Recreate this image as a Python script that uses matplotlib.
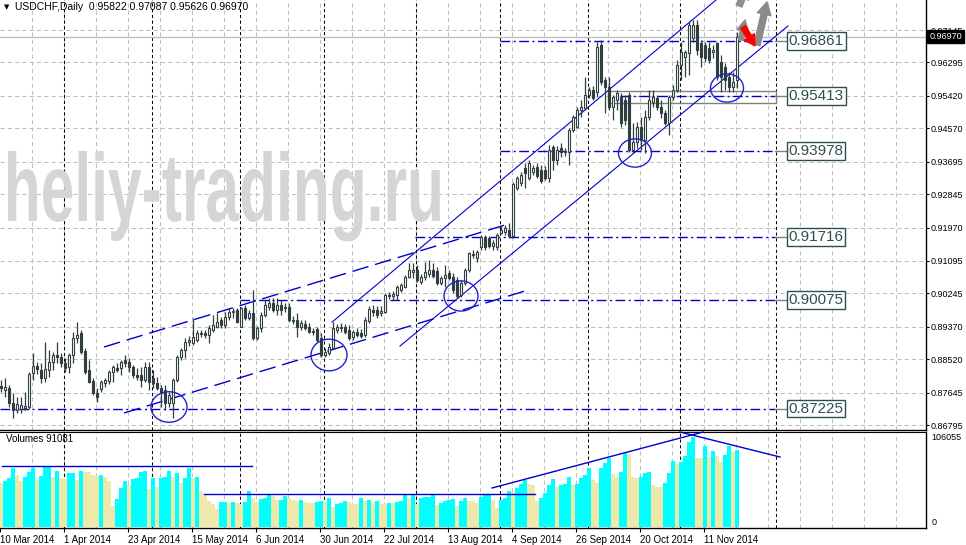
import numpy as np
import matplotlib
matplotlib.use('Agg')
import matplotlib.pyplot as plt
from matplotlib.patches import Rectangle, Ellipse, PathPatch
from matplotlib.textpath import TextPath
from matplotlib.font_manager import FontProperties
from matplotlib.transforms import Affine2D, blended_transform_factory

plt.rcParams['font.family'] = ['Liberation Sans', 'DejaVu Sans']

# ---------------- data ----------------
opens = [0.8782, 0.8771, 0.8776, 0.8737, 0.8719, 0.8721, 0.8724, 0.8727, 0.8816, 0.8834,
         0.8824, 0.8803, 0.8824, 0.8845, 0.8863, 0.8858, 0.8842, 0.8831, 0.8863, 0.8907,
         0.8921, 0.8873, 0.8824, 0.8795, 0.8763, 0.8774, 0.8790, 0.8795, 0.8818, 0.8829,
         0.8829, 0.8850, 0.8845, 0.8831, 0.8811, 0.8811, 0.8797, 0.8831, 0.8803, 0.8790,
         0.8776, 0.8771, 0.8737, 0.8737, 0.8797, 0.8858, 0.8876, 0.8897, 0.8894, 0.8902,
         0.8921, 0.8921, 0.8915, 0.8929, 0.8936, 0.8955, 0.8941, 0.8962, 0.8976, 0.8981,
         0.8936, 0.8986, 0.8960, 0.8973, 0.8907, 0.8934, 0.8968, 0.8989, 0.8999, 0.8981,
         0.8994, 0.8989, 0.8989, 0.8955, 0.8955, 0.8936, 0.8944, 0.8936, 0.8923, 0.8931,
         0.8907, 0.8863, 0.8868, 0.8881, 0.8929, 0.8936, 0.8936, 0.8929, 0.8910, 0.8923,
         0.8921, 0.8915, 0.8952, 0.8981, 0.8981, 0.8973, 0.8976, 0.9020, 0.9018, 0.9020,
         0.9033, 0.9041, 0.9067, 0.9080, 0.9086, 0.9054, 0.9067, 0.9075, 0.9086, 0.9083,
         0.9052, 0.9065, 0.9078, 0.9067, 0.9059, 0.9020, 0.9052, 0.9086, 0.9128, 0.9117,
         0.9146, 0.9172, 0.9169, 0.9149, 0.9146, 0.9183, 0.9185, 0.9190, 0.9175, 0.9300,
         0.9314, 0.9353, 0.9327, 0.9342, 0.9355, 0.9348, 0.9348, 0.9327, 0.9408, 0.9374,
         0.9405, 0.9395, 0.9395, 0.9452, 0.9460, 0.9505, 0.9510, 0.9544, 0.9557, 0.9552,
         0.9675, 0.9583, 0.9565, 0.9513, 0.9531, 0.9539, 0.9531, 0.9544, 0.9400, 0.9421,
         0.9460, 0.9426, 0.9486, 0.9526, 0.9536, 0.9513, 0.9497, 0.9471, 0.9539, 0.9557,
         0.9623, 0.9644, 0.9654, 0.9693, 0.9728, 0.9680, 0.9675, 0.9667, 0.9657, 0.9680,
         0.9631, 0.9618, 0.9591, 0.9565, 0.95822]
highs = [0.8797, 0.8802, 0.8784, 0.8763, 0.8753, 0.8753, 0.8766, 0.8818, 0.8868, 0.8844,
         0.8842, 0.8897, 0.8876, 0.8871, 0.8897, 0.8868, 0.8855, 0.8868, 0.8923, 0.8949,
         0.8929, 0.8881, 0.8850, 0.8803, 0.8776, 0.8797, 0.8803, 0.8824, 0.8837, 0.8842,
         0.8850, 0.8863, 0.8855, 0.8837, 0.8829, 0.8831, 0.8845, 0.8845, 0.8824, 0.8805,
         0.8784, 0.8784, 0.8766, 0.8803, 0.8863, 0.8881, 0.8907, 0.8913, 0.8960, 0.8929,
         0.8929, 0.8929, 0.8941, 0.8968, 0.8973, 0.8962, 0.8976, 0.8986, 0.8986, 0.8986,
         0.8989, 0.8994, 0.8981, 0.9033, 0.8939, 0.8976, 0.9007, 0.9012, 0.9012, 0.9012,
         0.9007, 0.8999, 0.8999, 0.8965, 0.8973, 0.8955, 0.8955, 0.8947, 0.8934, 0.8936,
         0.8921, 0.8881, 0.8894, 0.8949, 0.8944, 0.8947, 0.8944, 0.8941, 0.8929, 0.8934,
         0.8931, 0.8962, 0.8991, 0.8994, 0.8991, 0.8991, 0.9025, 0.9028, 0.9031, 0.9046,
         0.9052, 0.9073, 0.9104, 0.9104, 0.9099, 0.9075, 0.9107, 0.9112, 0.9104, 0.9093,
         0.9070, 0.9099, 0.9086, 0.9078, 0.9067, 0.9059, 0.9091, 0.9133, 0.9138, 0.9138,
         0.9177, 0.9177, 0.9175, 0.9164, 0.9183, 0.9201, 0.9204, 0.9209, 0.9316, 0.9332,
         0.9342, 0.9366, 0.9374, 0.9361, 0.9366, 0.9361, 0.9358, 0.9413, 0.9413, 0.9410,
         0.9418, 0.9405, 0.9458, 0.9492, 0.9513, 0.9531, 0.9591, 0.9565, 0.9568, 0.9683,
         0.9688, 0.9591, 0.9591, 0.9544, 0.9557, 0.9549, 0.9544, 0.9552, 0.9471, 0.9473,
         0.9486, 0.9505, 0.9557, 0.9557, 0.9544, 0.9531, 0.9505, 0.9544, 0.9570, 0.9636,
         0.9683, 0.9662, 0.9735, 0.9741, 0.9741, 0.9688, 0.9683, 0.9683, 0.9675, 0.9683,
         0.9649, 0.9628, 0.9604, 0.9604, 0.97087]
lows = [0.8766, 0.8753, 0.8727, 0.8698, 0.8711, 0.8711, 0.8719, 0.8721, 0.8797, 0.8813,
        0.8790, 0.8792, 0.8805, 0.8824, 0.8842, 0.8831, 0.8818, 0.8816, 0.8842, 0.8894,
        0.8866, 0.8813, 0.8790, 0.8758, 0.8740, 0.8766, 0.8779, 0.8787, 0.8792, 0.8818,
        0.8811, 0.8831, 0.8818, 0.8803, 0.8797, 0.8779, 0.8792, 0.8771, 0.8776, 0.8771,
        0.8727, 0.8719, 0.8727, 0.8698, 0.8792, 0.8850, 0.8855, 0.8887, 0.8889, 0.8897,
        0.8910, 0.8907, 0.8894, 0.8923, 0.8934, 0.8934, 0.8934, 0.8955, 0.8960, 0.8947,
        0.8936, 0.8955, 0.8955, 0.8902, 0.8902, 0.8923, 0.8962, 0.8981, 0.8976, 0.8968,
        0.8968, 0.8976, 0.8949, 0.8944, 0.8910, 0.8929, 0.8929, 0.8921, 0.8915, 0.8897,
        0.8858, 0.8858, 0.8863, 0.8881, 0.8921, 0.8923, 0.8918, 0.8902, 0.8902, 0.8910,
        0.8907, 0.8910, 0.8947, 0.8965, 0.8960, 0.8965, 0.8973, 0.9010, 0.9007, 0.9007,
        0.9028, 0.9039, 0.9065, 0.9065, 0.9054, 0.9049, 0.9059, 0.9067, 0.9065, 0.9046,
        0.9046, 0.9041, 0.9059, 0.9025, 0.9012, 0.9015, 0.9046, 0.9080, 0.9117, 0.9107,
        0.9138, 0.9138, 0.9143, 0.9138, 0.9138, 0.9180, 0.9177, 0.9169, 0.9169, 0.9295,
        0.9306, 0.9300, 0.9321, 0.9335, 0.9327, 0.9314, 0.9321, 0.9316, 0.9348, 0.9361,
        0.9382, 0.9384, 0.9361, 0.9447, 0.9458, 0.9486, 0.9505, 0.9536, 0.9531, 0.9539,
        0.9570, 0.9497, 0.9505, 0.9479, 0.9505, 0.9460, 0.9466, 0.9395, 0.9392, 0.9405,
        0.9400, 0.9392, 0.9479, 0.9513, 0.9505, 0.9484, 0.9466, 0.9439, 0.9531, 0.9552,
        0.9583, 0.9591, 0.9597, 0.9683, 0.9649, 0.9618, 0.9631, 0.9628, 0.9641, 0.9583,
        0.9552, 0.9557, 0.9552, 0.9552, 0.95626]
closes = [0.8776, 0.8779, 0.8737, 0.8719, 0.8734, 0.8732, 0.8729, 0.8813, 0.8834, 0.8826,
          0.8803, 0.8826, 0.8845, 0.8863, 0.8858, 0.8842, 0.8829, 0.8863, 0.8907, 0.8915,
          0.8871, 0.8818, 0.8792, 0.8763, 0.8753, 0.8792, 0.8797, 0.8818, 0.8831, 0.8824,
          0.8845, 0.8842, 0.8831, 0.8811, 0.8805, 0.8797, 0.8831, 0.8792, 0.8790, 0.8776,
          0.8763, 0.8737, 0.8758, 0.8797, 0.8858, 0.8876, 0.8897, 0.8902, 0.8910, 0.8921,
          0.8918, 0.8915, 0.8934, 0.8941, 0.8949, 0.8941, 0.8962, 0.8976, 0.8978, 0.8949,
          0.8986, 0.8960, 0.8973, 0.8907, 0.8934, 0.8968, 0.8994, 0.8999, 0.8981, 0.8994,
          0.8981, 0.8986, 0.8955, 0.8952, 0.8936, 0.8947, 0.8934, 0.8923, 0.8926, 0.8902,
          0.8863, 0.8871, 0.8884, 0.8934, 0.8936, 0.8934, 0.8923, 0.8907, 0.8923, 0.8915,
          0.8913, 0.8955, 0.8983, 0.8976, 0.8968, 0.8978, 0.9020, 0.9018, 0.9023, 0.9041,
          0.9046, 0.9067, 0.9086, 0.9086, 0.9059, 0.9067, 0.9080, 0.9086, 0.9070, 0.9052,
          0.9065, 0.9073, 0.9065, 0.9033, 0.9018, 0.9052, 0.9086, 0.9130, 0.9125, 0.9133,
          0.9172, 0.9146, 0.9149, 0.9156, 0.9177, 0.9190, 0.9196, 0.9175, 0.9311, 0.9327,
          0.9335, 0.9340, 0.9366, 0.9353, 0.9332, 0.9319, 0.9327, 0.9400, 0.9374, 0.9400,
          0.9395, 0.9397, 0.9452, 0.9486, 0.9505, 0.9513, 0.9544, 0.9557, 0.9536, 0.9670,
          0.9578, 0.9565, 0.9513, 0.9539, 0.9549, 0.9471, 0.9479, 0.9400, 0.9421, 0.9460,
          0.9426, 0.9486, 0.9531, 0.9539, 0.9513, 0.9497, 0.9471, 0.9539, 0.9557, 0.9623,
          0.9657, 0.9657, 0.9728, 0.9728, 0.9662, 0.9644, 0.9641, 0.9636, 0.9662, 0.9591,
          0.9591, 0.9583, 0.9565, 0.9578, 0.96970]
volumes = [51480, 54230, 58160, 69170, 61310, 54230, 59340, 65240, 69170, 55410,
           60130, 70350, 71130, 59340, 66020, 57380, 56590, 63270, 63670, 55410,
           66020, 65240, 64450, 61310, 60520, 61310, 59340, 54230, 24760, 33010,
           45590, 54230, 49520, 56200, 57380, 65240, 66020, 44800, 58160, 47550,
           58160, 58560, 66020, 58560, 63270, 51480, 58160, 69950, 58160, 58560,
           42440, 37730, 30650, 27120, 20830, 29080, 29870, 27900, 29870, 27900,
           26720, 29080, 42440, 34580, 29080, 33010, 34580, 37730, 36940, 31830,
           32230, 36940, 34580, 31830, 30650, 31830, 29080, 28690, 28300, 29870,
           30260, 29080, 34580, 23970, 26720, 27900, 30650, 29870, 27120, 26720,
           34580, 30650, 31830, 29870, 30650, 27510, 26720, 28690, 27900, 29870,
           30260, 37730, 34580, 38510, 26720, 34580, 34980, 35760, 37730, 25940,
           28690, 30650, 31830, 33010, 24760, 30650, 34580, 30650, 30260, 27900,
           35760, 37730, 38510, 31830, 22010, 31830, 33800, 42440, 41660, 45590,
           50300, 55410, 50300, 49520, 30650, 34580, 39690, 49520, 56590, 47550,
           49520, 50300, 58560, 49520, 50300, 58160, 61310, 69170, 55410, 51480,
           69170, 75060, 80960, 62090, 59340, 65240, 87250, 85670, 59340, 57380,
           59340, 63270, 65240, 49520, 47550, 47160, 51480, 63270, 77810, 73880,
           77030, 84100, 99820, 106055, 81740, 80960, 95500, 82920, 90000, 84100,
           77030, 84890, 95890, 88820, 91081]

price_ticks = [0.97145, 0.96295, 0.95420, 0.94570, 0.93695, 0.92845, 0.91970,
               0.91095, 0.90245, 0.89370, 0.88520, 0.87645, 0.86795]
date_labels = ['10 Mar 2014', '1 Apr 2014', '23 Apr 2014', '15 May 2014', '6 Jun 2014',
               '30 Jun 2014', '22 Jul 2014', '13 Aug 2014', '4 Sep 2014', '26 Sep 2014',
               '20 Oct 2014', '11 Nov 2014']
date_bars = [0, 16, 32, 48, 64, 80, 96, 112, 128, 144, 160, 176]
month_start_bars = [16, 38, 60, 81, 104, 125, 147, 170, 194]

level_prices = [0.96861, 0.95413, 0.93978, 0.91716, 0.90075, 0.87225]
level_start_bars = [124.75, 154.75, 124.75, 103.5, 59.75, -0.25]
level_end_bar = 193.5
label_bar = 196.5
zone_bars = [151.75, 193.75]
zone_prices = [0.95232, 0.95547]

channel_upper = ([82.75, 185.0], [0.8949, 0.9848])
channel_lower = ([99.75, 196.75], [0.88866, 0.97250])
dashed_upper = ([25.75, 126.0], [0.88840, 0.92036])
dashed_lower = ([30.75, 131.0], [0.87110, 0.90307])
circles = [(42.0, 0.87268, 9.0, 0.0080), (82.0, 0.88630, 9.0, 0.0083),
           (115.0, 0.90176, 8.5, 0.0079), (158.5, 0.93922, 8.25, 0.0074),
           (181.5, 0.95625, 8.25, 0.0074)]
vol_lines = [([0.25, 62.75], [71880, 71880]), ([50.75, 133.5], [38890, 38890]),
             ([122.75, 175.5], [45960, 111950]), ([169.75, 194.75], [111950, 82490])]
last_price = 0.96970
last_volume = 91081
max_volume = 106055

# ---------------- figure ----------------
W, H = 966, 545
fig = plt.figure(figsize=(W / 100, H / 100), dpi=100)
fig.patch.set_facecolor('white')

def fx(px):
    return px / W

def fy(py):
    return 1 - py / H

ax = fig.add_axes([0, fy(429.5), fx(926), 429.5 / H])
axv = fig.add_axes([0, fy(528), fx(926), (528 - 432) / H])

PPX = 0.000262
ax.set_ylim(0.97931 - 429.5 * PPX, 0.97931)
ax.set_xlim(-0.25, 231.25)
axv.set_xlim(-0.25, 231.25)
axv.set_ylim(-1178, 111948)

for a in (ax, axv):
    a.set_facecolor('white')
    for s in ('left', 'top'):
        a.spines[s].set_visible(False)
    for s in ('right', 'bottom'):
        a.spines[s].set_color('black')
        a.spines[s].set_linewidth(1.0)
axv.spines['top'].set_visible(True)
axv.spines['top'].set_color('black')

GRID = '#C0C0C0'
for k in range(1, 29):
    xv = 8 * k - 0.25
    for a in (ax, axv):
        a.axvline(xv, color=GRID, lw=0.75, dashes=(4, 3), zorder=0.5)
for t in price_ticks:
    ax.axhline(t, color=GRID, lw=0.75, dashes=(4, 3), zorder=0.5)
for b in month_start_bars:
    for a in (ax, axv):
        a.axvline(b - 0.25, color='black', lw=0.75, dashes=(3, 2.5), zorder=1)

# current price line
ax.axhline(last_price, color='#BEBEBE', lw=1.0, zorder=1)

# watermark
fp = FontProperties(family='Liberation Sans', weight='bold')
tp = TextPath((0, 0), 'heliy-trading.ru', size=1, prop=fp)
ext = tp.get_extents()
sx = 432 / (ext.x1 - ext.x0)
sy = 70 / ext.y1
tr = (Affine2D().translate(-ext.x0, 0).scale(sx / W, sy / H)
      .translate(fx(8), fy(221)) + fig.transFigure)
ax.add_artist(PathPatch(tp, transform=tr, fc='#D5D5D5', ec='none', zorder=1.5))

# candles
O = np.array(opens); Hh = np.array(highs); L = np.array(lows); C = np.array(closes)
n = len(O)
x = np.arange(n)
DARK = '#2F3F3F'
up = C >= O
ax.vlines(x, L, Hh, color=DARK, lw=0.9, zorder=3)
ax.bar(x, np.maximum(np.abs(C - O), 0.00004), bottom=np.minimum(O, C), width=0.55,
       color=np.where(up, 'white', DARK), edgecolor=DARK, linewidth=0.8, zorder=4)

# volumes
V = np.array(volumes)
vcol = ['#EEE8AA'] + ['#00FFFF' if V[i] > V[i - 1] else '#EEE8AA' for i in range(1, len(V))]
axv.bar(np.arange(len(V)), V, width=0.78, color=vcol, linewidth=0, zorder=2)

BLUE = '#0000CD'
# levels
for p, sb in zip(level_prices, level_start_bars):
    ax.plot([sb, level_end_bar], [p, p], color=BLUE, lw=1.0, dashes=(7, 2.5, 1.5, 2.5), zorder=2)
    ax.plot([level_end_bar, label_bar], [p, p], color='#808080', lw=1.0, zorder=2)
    ax.text(label_bar + 0.4, p, f'{p:.5f}', fontsize=11, color='#2F4F4F', ha='left', va='center',
            bbox=dict(boxstyle='square,pad=0.12', fc='white', ec='#2F4F4F', lw=1.0), zorder=6,
            clip_on=False)
ax.add_patch(Rectangle((zone_bars[0], zone_prices[0]), zone_bars[1] - zone_bars[0],
                       zone_prices[1] - zone_prices[0], fill=False, ec='#808080', lw=1.0, zorder=2))

# trend lines
for xs, ys in (channel_upper, channel_lower):
    ax.plot(xs, ys, color=BLUE, lw=0.8, zorder=2)
for xs, ys in (dashed_upper, dashed_lower):
    ax.plot(xs, ys, color=BLUE, lw=1.0, dashes=(12, 5), zorder=2)
for cx, cy, w, h in circles:
    ax.add_patch(Ellipse((cx, cy), w, h, fill=False, ec='#2222CC', lw=1.0, zorder=5))
for xs, ys in vol_lines:
    axv.plot(xs, ys, color=BLUE, lw=1.0, zorder=3, clip_on=False)

# arrows
def arrow(tail, tip, color, ms=20):
    ax.annotate('', xy=tip, xytext=tail, annotation_clip=False,
                arrowprops=dict(arrowstyle='simple,head_length=0.45,head_width=0.5,tail_width=0.22',
                                fc=color, ec=color, mutation_scale=ms, shrinkA=0, shrinkB=0),
                zorder=7)

arrow((184.5, 0.97774), (186.5, 0.98298), '#909090')
arrow((189.0, 0.96752), (191.5, 0.97879), '#8A8A8A')
arrow((185.0, 0.96883), (186.0, 0.97407), '#8A8A8A', ms=17)
arrow((185.5, 0.97224), (188.5, 0.96729), '#FF0000', ms=17)

# price axis
ax.yaxis.tick_right()
ax.set_yticks(price_ticks)
ax.set_yticklabels([f'{t:.5f}' for t in price_ticks])
ax.tick_params(axis='y', length=2, width=0.8, pad=1.5, labelsize=6.5, colors='black')
ax.set_xticks([])

blend = blended_transform_factory(ax.transAxes, ax.transData)
ax.text(1.0035, last_price, f'{last_price:.5f}', transform=blend, fontsize=6.5, color='white',
        ha='left', va='center', zorder=10, clip_on=False,
        bbox=dict(boxstyle='square,pad=0.2', fc='black', ec='black'))

# volume axis
axv.set_yticks([])
blendv = blended_transform_factory(axv.transAxes, axv.transData)
axv.text(1.0058, max_volume, f'{max_volume}', transform=blendv, fontsize=6.5, ha='left', va='center')
axv.text(1.0058, 0, '0', transform=blendv, fontsize=6.5, ha='left', va='bottom')
axv.set_xticks([b - 0.25 for b in date_bars])
axv.set_xticklabels(date_labels)
for lab in axv.get_xticklabels():
    lab.set_ha('left')
axv.tick_params(axis='x', length=3, width=0.8, pad=2, labelsize=7, colors='black')
axv.text(0.006, 0.93, f'Volumes {last_volume}', transform=axv.transAxes, fontsize=7,
         ha='left', va='center')

# title
fig.text(fx(4), fy(7.5), '▼', fontsize=5, ha='left', va='center', family=['DejaVu Sans'])
fig.text(fx(15), fy(7.5), 'USDCHF,Daily  0.95822 0.97087 0.95626 0.96970', fontsize=7.5,
         ha='left', va='center')

fig.savefig('out.png', dpi=100, facecolor='white')
